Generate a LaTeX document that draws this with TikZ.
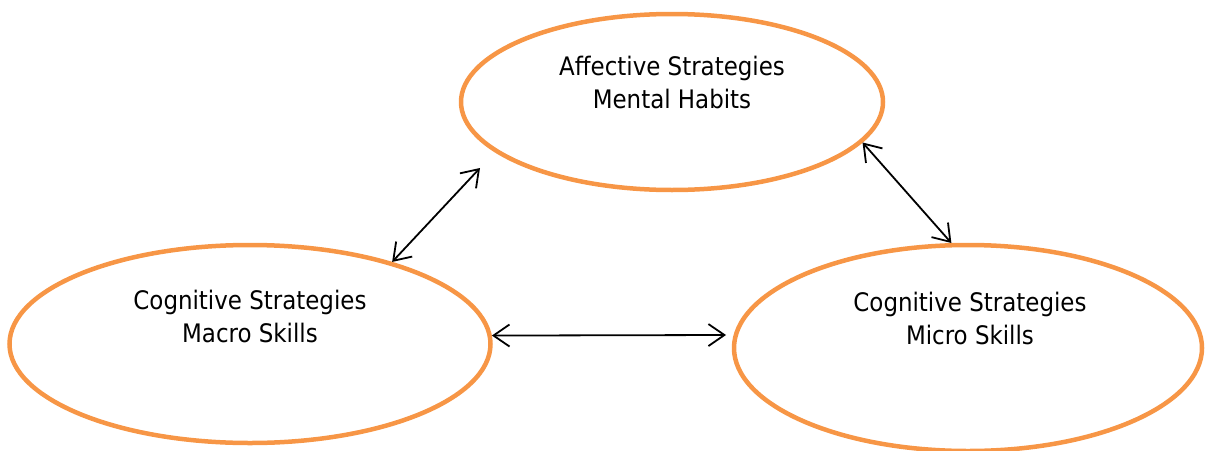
\documentclass[tikz,border=0pt]{standalone}
\usepackage{fontspec}
\setmainfont{DejaVu Sans Condensed}
\usetikzlibrary{shapes.geometric,arrows.meta}
\definecolor{strategyorange}{HTML}{F79646}
\tikzset{
  strategy/.style={ellipse,draw=strategyorange,line width=4.5pt,inner sep=0pt},
  strategytext/.style={align=center,font=\fontsize{25.5}{33}\selectfont},
  link/.style={line width=1.8pt,{Straight Barb[length=16pt,width=22pt]}-{Straight Barb[length=16pt,width=22pt]}}
}
\begin{document}
\begin{tikzpicture}[x=1pt,y=-1pt]
  \useasboundingbox (0,0) rectangle (1205,450);

  \node[strategy,minimum width=422pt,minimum height=176pt] (affective) at (672,102) {};
  \node[strategy,minimum width=481pt,minimum height=198pt] (macro) at (250,344) {};
  \node[strategy,minimum width=468pt,minimum height=206pt] (micro) at (968,348) {};

  \node[strategytext] (affective-text) at (672,82) {Affective Strategies\\Mental Habits};
  \node[strategytext] (macro-text) at (250,316) {Cognitive Strategies\\Macro Skills};
  \node[strategytext] (micro-text) at (970,318) {Cognitive Strategies\\Micro Skills};

  \coordinate (a1) at (480,168);
  \coordinate (m1) at (726,335);

  \draw[link] (macro.30) -- (a1);
  \draw[link] (affective.-12.6) -- (micro.99.2);
  \draw[link] (macro.2.6) -- (m1);
\end{tikzpicture}
\end{document}
